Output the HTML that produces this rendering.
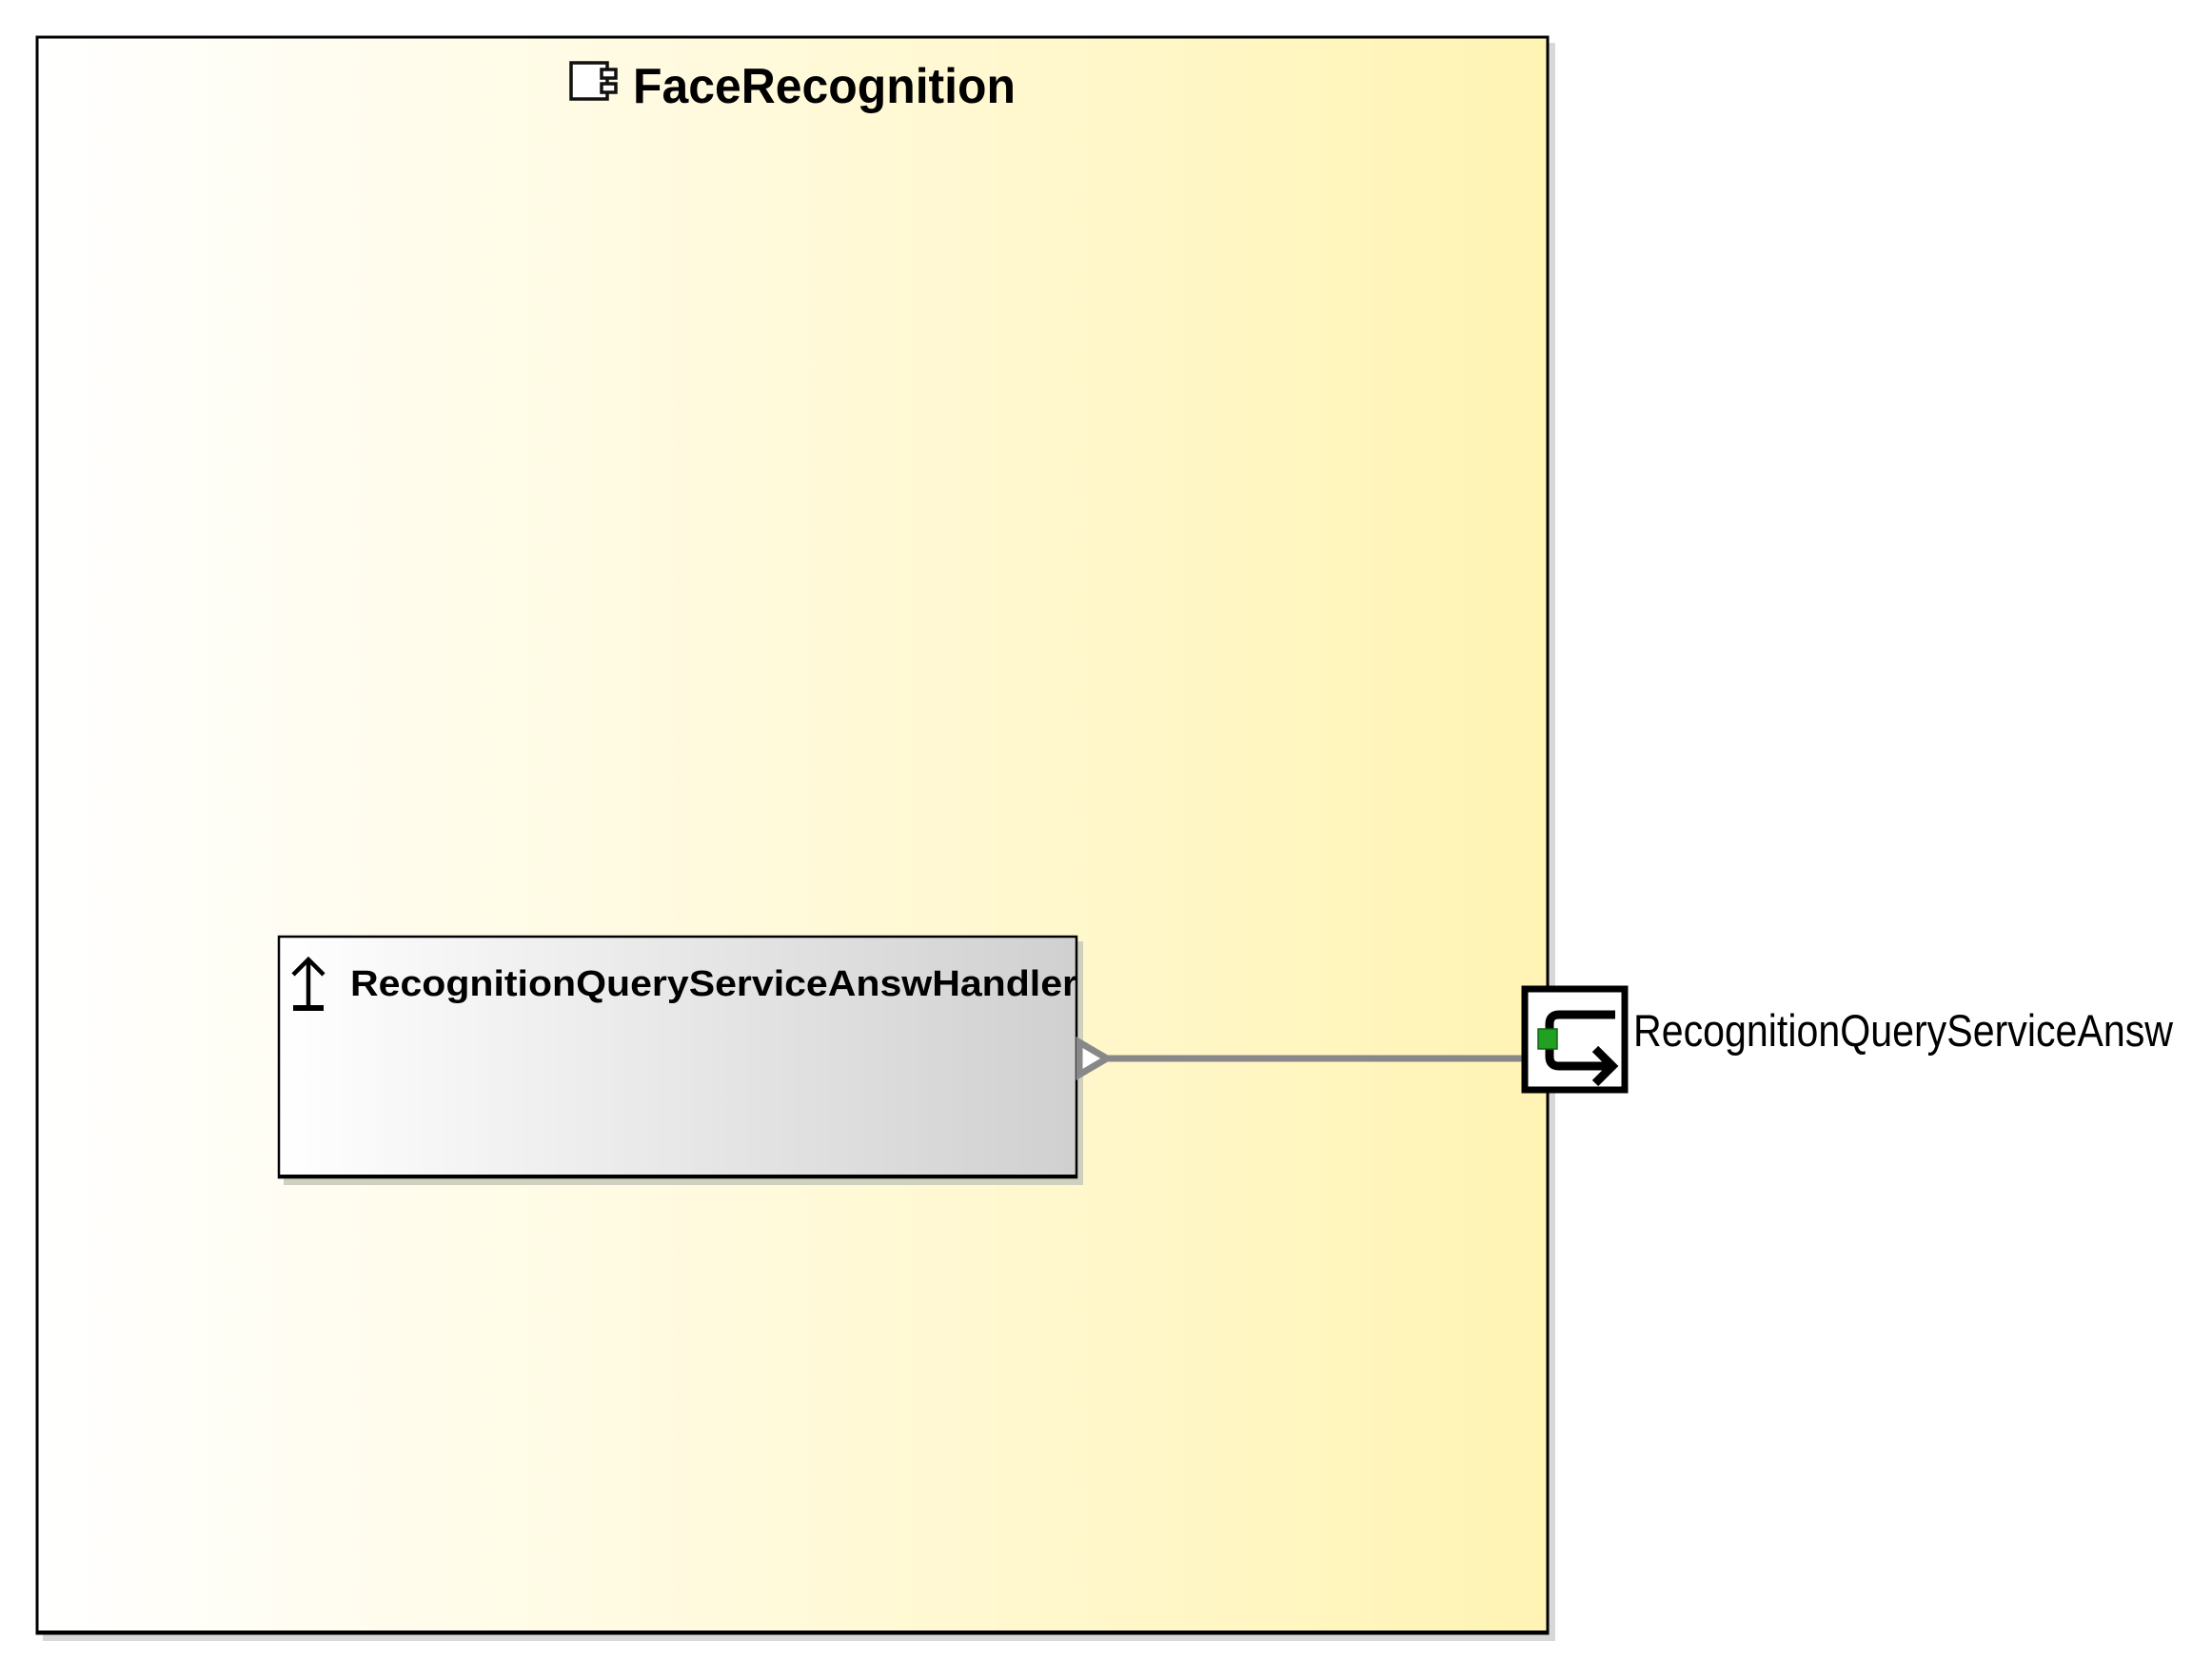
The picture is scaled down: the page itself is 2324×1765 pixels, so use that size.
<!DOCTYPE html>
<html><head><meta charset="utf-8"><style>html,body{margin:0;padding:0;background:#fff}svg{display:block}</style></head>
<body>
<svg width="2324" height="1765" viewBox="0 0 2324 1765" xmlns="http://www.w3.org/2000/svg">
<defs>
<linearGradient id="y" x1="0" x2="1" y1="0" y2="0"><stop offset="0" stop-color="#ffffff"/><stop offset="1" stop-color="#fff4b4"/></linearGradient>
<linearGradient id="g" x1="0" x2="1" y1="0" y2="0"><stop offset="0" stop-color="#ffffff"/><stop offset="1" stop-color="#d0d0d0"/></linearGradient>
</defs>
<rect x="45" y="45" width="1589" height="1679" fill="#d8d8d8"/>
<rect x="39" y="39" width="1587" height="1677" fill="url(#y)" stroke="#000" stroke-width="3"/>
<line x1="39" y1="1715" x2="1626" y2="1715" stroke="#000" stroke-width="4"/>
<g stroke="#111" stroke-width="3.5" fill="#fff">
<rect x="600" y="66" width="38" height="38"/>
<rect x="632" y="73" width="15" height="9"/>
<rect x="632" y="88" width="15" height="9"/>
</g>
<text x="665" y="108" font-family="Liberation Sans, sans-serif" font-weight="bold" font-size="52" textLength="402" lengthAdjust="spacingAndGlyphs">FaceRecognition</text>
<rect x="298" y="989" width="840" height="256" fill="#d0d0c0"/>
<rect x="293" y="984" width="838" height="253" fill="url(#g)" stroke="#000" stroke-width="2.5"/>
<line x1="293" y1="1236" x2="1131" y2="1236" stroke="#000" stroke-width="4"/>
<g stroke="#000" stroke-width="4.5" fill="none">
<line x1="324" y1="1008" x2="324" y2="1058"/>
<line x1="308" y1="1059" x2="340" y2="1059" stroke-width="6"/>
<polyline points="308,1024 324,1008 340,1024"/>
</g>
<text x="368" y="1046" font-family="Liberation Sans, sans-serif" font-weight="bold" font-size="38" textLength="764" lengthAdjust="spacingAndGlyphs">RecognitionQueryServiceAnswHandler</text>
<line x1="1160" y1="1112" x2="1602" y2="1112" stroke="#888" stroke-width="7"/>
<polygon points="1134,1095 1163,1112 1134,1129" fill="#fff" stroke="#888" stroke-width="7"/>
<rect x="1602" y="1039" width="105" height="106" fill="#fff" stroke="#000" stroke-width="7"/>
<g stroke="#000" stroke-width="9" fill="none">
<path d="M1697 1066 H1638 Q1628 1066 1628 1076 V1110 Q1628 1120 1638 1120 H1692"/>
<polyline points="1676,1102 1694,1120 1676,1138"/>
</g>
<rect x="1616" y="1081" width="20" height="21" fill="#22a022" stroke="#116611" stroke-width="1.5"/>
<text x="1716" y="1099" font-family="Liberation Sans, sans-serif" font-size="47" textLength="567" lengthAdjust="spacingAndGlyphs">RecognitionQueryServiceAnsw</text>
</svg>
</body></html>
